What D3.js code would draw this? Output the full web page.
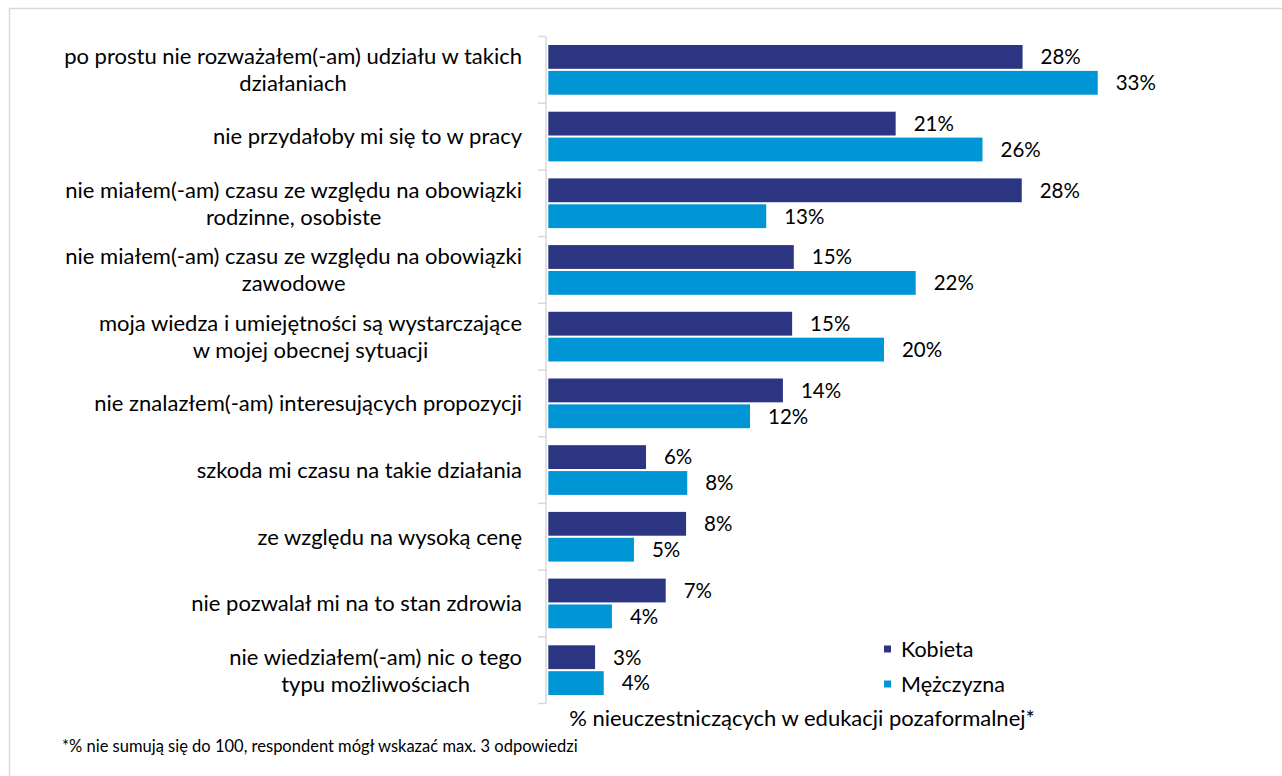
<!DOCTYPE html>
<html>
<head>
<meta charset="utf-8">
<script src="https://cdn.jsdelivr.net/npm/d3@7"></script>
<style>
  html, body { margin: 0; padding: 0; background: #fff; }
  svg { display: block; }
  text { font-family: Lato, "Open Sans", sans-serif; fill: #000; }
</style>
</head>
<body>
<svg id="chart" width="1282" height="776"></svg>
<script>
const categories = [
  "po prostu nie rozważałem(-am) udziału w takich\ndziałaniach",
  "nie przydałoby mi się to w pracy",
  "nie miałem(-am) czasu ze względu na obowiązki\nrodzinne, osobiste",
  "nie miałem(-am) czasu ze względu na obowiązki\nzawodowe",
  "moja wiedza i umiejętności są wystarczające\nw mojej obecnej sytuacji",
  "nie znalazłem(-am) interesujących propozycji",
  "szkoda mi czasu na takie działania",
  "ze względu na wysoką cenę",
  "nie pozwalał mi na to stan zdrowia",
  "nie wiedziałem(-am) nic o tego\ntypu możliwościach"
];
const seriesNames = ["Kobieta", "Mężczyzna"];
const kobieta    = [28.4, 20.8, 28.35, 14.7, 14.6, 14.05, 5.85, 8.25, 7.03, 2.8];
const mezczyzna  = [32.9, 26.0, 13.05, 22.0, 20.1, 12.08, 8.32, 5.13, 3.81, 3.32];
const kobietaLabels   = ["28%", "21%", "28%", "15%", "15%", "14%", "6%", "8%", "7%", "3%"];
const mezczyznaLabels = ["33%", "26%", "13%", "22%", "20%", "12%", "8%", "5%", "4%", "4%"];
const colors = ["#2C3582", "#0095D5"];
const axisTitle = "% nieuczestniczących w edukacji pozaformalnej*";
const footnote = "*% nie sumują się do 100, respondent mógł wskazać max. 3 odpowiedzi";

const svg = d3.select("#chart");

// outer frame
svg.append("rect")
  .attr("x", 9.5).attr("y", 8.5)
  .attr("width", 1400).attr("height", 900)
  .attr("fill", "#fff")
  .attr("stroke", "#d9d9d9").attr("stroke-width", 1.5);

const axisX = 546;
const plotTop = 36.5, plotBottom = 703.5;
const x = d3.scaleLinear().domain([0, 40]).range([548.3, 548.3 + 668]);
const y = d3.scaleBand().domain(d3.range(categories.length)).range([plotTop, plotBottom]).paddingInner(0).paddingOuter(0);
const inner = d3.scaleBand().domain([0, 1]).range([8.5, y.bandwidth() - 8.5]).paddingInner(0.08);

const data = categories.map((c, i) => ({
  i, values: [kobieta[i], mezczyzna[i]], labels: [kobietaLabels[i], mezczyznaLabels[i]]
}));

// y axis line with ticks at band boundaries
const yAxisG = svg.append("g");
yAxisG.append("line")
  .attr("x1", axisX).attr("x2", axisX)
  .attr("y1", plotTop).attr("y2", plotBottom)
  .attr("stroke", "#d9d9d9").attr("stroke-width", 1.5);
const boundaries = d3.range(categories.length + 1).map(k => k === categories.length ? plotBottom : y(k));
yAxisG.selectAll("line.tick").data(boundaries).join("line")
  .attr("class", "tick")
  .attr("x1", axisX - 8).attr("x2", axisX)
  .attr("y1", d => d).attr("y2", d => d)
  .attr("stroke", "#d9d9d9").attr("stroke-width", 1.5);

// bars
const groups = svg.append("g").selectAll("g.cat").data(data).join("g")
  .attr("class", "cat")
  .attr("transform", d => `translate(0,${y(d.i)})`);

groups.selectAll("rect").data(d => d.values.map((v, s) => ({ v, s }))).join("rect")
  .attr("x", x(0))
  .attr("y", d => inner(d.s))
  .attr("width", d => x(d.v) - x(0))
  .attr("height", inner.bandwidth())
  .attr("fill", d => colors[d.s]);

groups.selectAll("text.val").data(d => d.values.map((v, s) => ({ v, s, l: d.labels[s] }))).join("text")
  .attr("class", "val")
  .attr("x", d => x(d.v) + 18)
  .attr("y", d => inner(d.s) + inner.bandwidth() / 2)
  .attr("dy", "0.36em")
  .attr("font-size", 20.5)
  .text(d => d.l);

// category labels: block right-aligned, lines centered in block
const labelRight = 522;
const lineH = 27;
const catG = svg.append("g");
categories.forEach((c, i) => {
  const lines = c.split("\n");
  const g = catG.append("g");
  const texts = lines.map((ln, k) => g.append("text")
    .attr("font-size", 22)
    .attr("text-anchor", "middle")
    .attr("dy", "0.36em")
    .attr("y", y(i) + y.bandwidth() / 2 + (k - (lines.length - 1) / 2) * lineH)
    .text(ln));
  const w = d3.max(texts, t => t.node().getComputedTextLength());
  texts.forEach(t => t.attr("x", labelRight - w / 2));
});

// legend
const legend = svg.append("g");
seriesNames.forEach((n, s) => {
  const ly = 649 + s * 35;
  legend.append("rect").attr("x", 884).attr("y", ly - 3.5).attr("width", 7).attr("height", 7).attr("fill", colors[s]);
  legend.append("text").attr("x", 901).attr("y", ly).attr("dy", "0.36em").attr("font-size", 21.5).text(n);
});

// axis title
svg.append("text")
  .attr("x", 802).attr("y", 718).attr("dy", "0.36em")
  .attr("text-anchor", "middle").attr("font-size", 22)
  .text(axisTitle);

// footnote
svg.append("text")
  .attr("x", 62).attr("y", 746).attr("dy", "0.36em")
  .attr("font-size", 16.5)
  .text(footnote);
</script>
</body>
</html>
